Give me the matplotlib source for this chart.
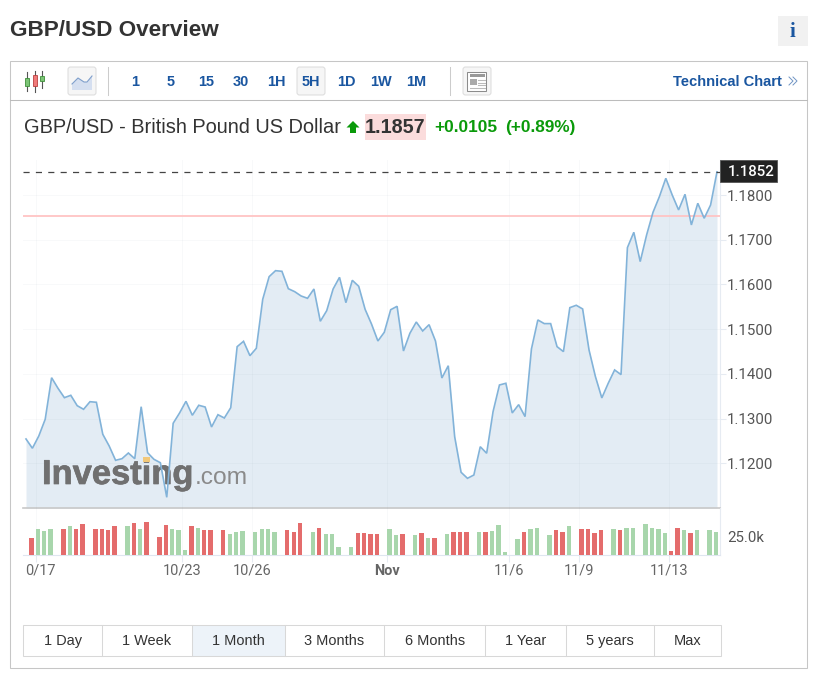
import matplotlib
matplotlib.use("Agg")
import matplotlib.pyplot as plt
import matplotlib.patheffects as pe
from matplotlib.patches import Rectangle, FancyBboxPatch, Polygon
from matplotlib.transforms import ScaledTranslation

# closing prices, one per 5H candle
price = [1.12544, 1.12336, 1.12611, 1.12984, 1.13915, 1.13678, 1.13468, 1.13521, 1.13289, 1.13208,
         1.13378, 1.13365, 1.12649, 1.12387, 1.12067, 1.12103, 1.12230, 1.12103, 1.13266, 1.12237,
         1.12089, 1.12013, 1.11239, 1.12895, 1.13125, 1.13387, 1.13074, 1.13298, 1.13259, 1.12812,
         1.13087, 1.13013, 1.13244, 1.14609, 1.14729, 1.14407, 1.14573, 1.15669, 1.16175, 1.16309,
         1.16295, 1.15906, 1.15839, 1.15743, 1.15691, 1.15899, 1.15177, 1.15414, 1.15899, 1.16161,
         1.15593, 1.16094, 1.15960, 1.15445, 1.15116, 1.14736, 1.14931, 1.15436, 1.15512, 1.14512,
         1.14908, 1.15161, 1.14960, 1.15101, 1.14736, 1.13908, 1.14183, 1.12595, 1.11799, 1.11664,
         1.11738, 1.12371, 1.12224, 1.13156, 1.13752, 1.13790, 1.13126, 1.13312, 1.13044, 1.14558,
         1.15207, 1.15125, 1.15125, 1.14610, 1.14498, 1.15482, 1.15535, 1.15453, 1.14535, 1.13939,
         1.13462, 1.13790, 1.14088, 1.13984, 1.16825, 1.17168, 1.16512, 1.17108, 1.17615, 1.17966,
         1.18376, 1.18003, 1.17667, 1.18018, 1.17332, 1.17817, 1.17481, 1.17779, 1.1852]

# volume in thousands, None where the feed has no bar
volume = [None, 23.6, 35.2, 33.3, 35.6, None, 35.6, 38.9, 35.6, 42.6,
          None, 35.6, 35.6, 33.8, 38.9, None, 38.9, 44.0, 35.6, 45.8,
          None, 25.0, 40.7, 35.6, 33.8, 6.0, 38.9, 37.0, 33.8, 33.8,
          None, 33.8, 28.2, 30.6, 33.3, None, 31.9, 35.2, 35.6, 30.6,
          None, 33.8, 31.9, 44.0, None, 30.6, 37.0, 28.7, 28.7, 11.0,
          None, 11.0, 30.1, 30.1, 28.7, 28.7, None, 35.6, 26.4, 28.7,
          None, 26.4, 30.1, 23.6, 23.6, None, 28.7, 31.9, 30.6, 30.6,
          None, 31.9, 31.9, 33.3, 40.7, 2.8, None, 21.8, 31.9, 35.6,
          37.5, None, 26.4, 33.8, 31.9, 38.9, None, 35.6, 35.6, 30.1,
          33.8, None, 35.6, 33.8, 37.5, 37.5, None, 42.6, 37.5, 35.6,
          30.1, 4.2, 37.5, 33.8, 30.1, 33.8, None, 33.8, 31.9]
vol_dir = "-rggg-rgrr-rrrr-grgr-rrgggrgrr-rggg-gggg-rrr-grggg-grrrr-ggr-grgr-grrr-grggg-grgg-grrg-rrrr-grgg-ggggrrgrg-gg"

price_ticks = [1.12, 1.13, 1.14, 1.15, 1.16, 1.17, 1.18]
date_pos = [1.56, 24.4, 35.4, 56.5, 75.5, 86.4, 100.5]
date_labels = ["0/17", "10/23", "10/26", "Nov", "11/6", "11/9", "11/13"]
last_price = 1.1852
prev_close = 1.1753

intervals = ["1", "5", "15", "30", "1H", "5H", "1D", "1W", "1M"]
ranges = ["1 Day", "1 Week", "1 Month", "3 Months", "6 Months", "1 Year", "5 years", "Max"]

W, H = 823, 684
BLUE = "#1a56a0"
GREEN = "#0a9a0a"
DARK = "#333333"
UI = "Liberation Sans"
AXF = "Roboto"
PX = 0.72


def px_axes(fig, left, top, right, bottom):
    return fig.add_axes([left / W, 1 - bottom / H, (right - left) / W, (bottom - top) / H])


fig = plt.figure(figsize=(W / 100, H / 100), dpi=100, facecolor="white")

# page furniture, in pixel coordinates
ui = fig.add_axes([0, 0, 1, 1], zorder=0)
ui.set_xlim(0, W)
ui.set_ylim(H, 0)
ui.axis("off")

ui.text(10, 31, "GBP/USD Overview", fontsize=22.5 * PX, fontweight="bold", family=UI, color=DARK, va="center")
ui.add_patch(Rectangle((778, 16), 30, 30, fc="#f1f1f1", ec="none"))
ui.text(792, 32, "i", fontsize=21 * PX, fontweight="bold", family="Liberation Serif", color=BLUE, ha="center", va="center")

ui.add_patch(Rectangle((10.5, 61), 797, 607, fc="white", ec="#c6c6c6", lw=0.75))
ui.plot([10.5, 807.5], [100, 100], color="#bcbcbc", lw=0.75)

# candle icon
for cx, y0, y1, by0, by1, fc, ec in [(27.3, 72, 91, 78, 86, "#7cc576", "#3f8f3a"),
                                     (34.7, 71, 92, 75, 86, "#f07a7a", "#b84040"),
                                     (42.5, 71, 88, 76, 81, "#7cc576", "#3f8f3a")]:
    ui.plot([cx, cx], [y0, y1], color="#555555", lw=0.8)
    ui.add_patch(Rectangle((cx - 2, by0), 4, by1 - by0, fc=fc, ec=ec, lw=0.6, zorder=3))


def icon_box(x, y, w, h):
    ui.add_patch(FancyBboxPatch((x + 1.5, y + 1.5), w - 3, h - 3, boxstyle="round,pad=1.5,rounding_size=2.5",
                                fc="#f6f6f6", ec="#dddddd", lw=0.75))


# line-chart icon
icon_box(68, 67, 28, 28)
icon_x = [72, 78, 84, 87, 92]
icon_y = [84, 78, 82, 82, 76]
ui.add_patch(Polygon(list(zip(icon_x, icon_y)) + [(92, 90), (72, 90)], fc="#d5dff0", ec="none"))
ui.plot(icon_x, icon_y, color="#7f9fcc", lw=0.8)

ui.plot([108.5, 108.5], [67, 95], color="#cccccc", lw=0.75)
ui.plot([450.5, 450.5], [67, 95], color="#cccccc", lw=0.75)
icon_box(297, 67, 28, 28)
for x, lab in zip([135.5, 170.5, 206, 241, 276, 311, 346, 381, 416], intervals):
    ui.text(x, 81.5, lab, fontsize=14.5 * PX, fontweight="bold", family=UI, color=BLUE, ha="center", va="center")

# news icon
icon_box(463, 67, 28, 28)
ui.add_patch(Rectangle((467.5, 71.5), 19, 19, fc="white", ec="#8c8c8c", lw=0.75))
ui.add_patch(Rectangle((470, 73.5), 15, 3.5, fc="#999999", ec="none"))
ui.add_patch(Rectangle((470, 79), 7, 6, fc="#aaaaaa", ec="none"))
for y in [80, 82.5, 85, 88]:
    ui.plot([478 if y < 87 else 470, 485], [y, y], color="#bbbbbb", lw=0.75)

ui.text(782, 81.5, "Technical Chart", fontsize=14.7 * PX, fontweight="bold", family=UI, color=BLUE, ha="right", va="center")
for off in [0, 4]:
    ui.plot([789 + off, 793 + off, 789 + off], [77, 81, 85], color="#6f94c4", lw=0.7)

# quote line
ui.text(24, 127.5, "GBP/USD - British Pound US Dollar", fontsize=20 * PX, family=UI, color=DARK, va="center")
ui.add_patch(Polygon([(353, 121), (359.5, 127.5), (356, 127.5), (356, 133), (350, 133), (350, 127.5), (346.5, 127.5)],
                     fc=GREEN, ec="none"))
ui.add_patch(Rectangle((365, 114), 61, 26, fc="#fbdcdc", ec="none"))
ui.text(395.5, 127.5, "1.1857", fontsize=19.8 * PX, fontweight="bold", family=UI, color=DARK, ha="center", va="center")
ui.text(434, 127.5, "+0.0105", fontsize=17.2 * PX, fontweight="bold", family=UI, color=GREEN, va="center")
ui.text(505, 127.5, "(+0.89%)", fontsize=17.2 * PX, fontweight="bold", family=UI, color=GREEN, va="center")

# price panel
x = list(range(len(price)))
ax = px_axes(fig, 23, 160, 720, 508)
ax.set_zorder(1)
ax.patch.set_alpha(0)
ax.set_xlim(-0.47, 108.47)
ax.set_ylim(1.11, 1.18785)
ax.fill_between(x, price, 1.11, color="#e3ecf4", lw=0, zorder=1)
ax.plot(x, price, color="#82b3d9", lw=1.2, zorder=4, solid_joinstyle="miter")
ax.axhline(prev_close, color="#ffc4c4", lw=1.3, zorder=3)
ax.axhline(last_price, color="#444444", lw=0.9, dashes=(4.9, 5), zorder=5)
ax.yaxis.tick_right()
ax.set_yticks(price_ticks)
ax.set_yticklabels([f"{t:.4f}" for t in price_ticks], fontsize=15 * PX, family=AXF, color="#555555", va="center_baseline")
ax.tick_params(axis="y", length=4, width=0.75, color="#e6ebf2", pad=1)
ax.set_xticks(date_pos)
ax.tick_params(axis="x", length=0, labelbottom=False)
ax.grid(True, color="#8899aa", alpha=0.06, lw=0.75, zorder=2)
ax.set_axisbelow(False)
for side in ["top", "left"]:
    ax.spines[side].set_visible(False)
ax.spines["right"].set_color("#e6ebf2")
ax.spines["bottom"].set_color("#c8c8c8")
ax.spines["bottom"].set_linewidth(1.2)

# watermark
wm = ax.annotate("Investing", (0, 0), xycoords="axes fraction", xytext=(19 * PX, 24 * PX), textcoords="offset points",
                 fontsize=34.5 * PX, fontweight="bold", family=UI, color="#707070", zorder=3)
wm.set_path_effects([pe.withStroke(linewidth=0.5, foreground="#707070")])
ax.annotate(".com", (0, 0), xycoords="axes fraction", xytext=(172 * PX, 24 * PX), textcoords="offset points",
            fontsize=24.5 * PX, family=UI, color="#8a8a8a", zorder=3)

# last price flag sits over the axis
flag = fig.add_axes([0, 0, 1, 1], zorder=3)
flag.set_xlim(0, W)
flag.set_ylim(H, 0)
flag.axis("off")
flag.add_patch(Rectangle((720, 160), 57, 22, fc="#222222", ec="#555555", lw=0.6))
flag.text(751.5, 171.5, f"{last_price:.4f}", fontsize=15 * PX, fontweight="medium", family=AXF, color="white", ha="center", va="center")
flag.add_patch(Rectangle((143.5, 456.5), 6.5, 5, fc="#f2c879", ec="none"))

# volume panel
vx = [i - 0.16 for i, v in enumerate(volume) if v is not None]
vh = [v for v in volume if v is not None]
vc = ["#e46c6c" if d == "r" else "#a8d6ac" for d, v in zip(vol_dir, volume) if v is not None]
vol = px_axes(fig, 23, 508, 720, 554.5)
vol.set_zorder(1)
vol.patch.set_alpha(0)
vol.set_xlim(-0.47, 108.47)
vol.set_ylim(0, 46.5 * 25 / 18)
vol.bar(vx, vh, width=0.68, color=vc, zorder=3)
vol.yaxis.tick_right()
vol.set_yticks([25])
vol.set_yticklabels(["25.0k"], fontsize=15 * PX, family=AXF, color="#555555", va="center_baseline")
vol.tick_params(axis="y", length=0, pad=5)
vol.set_xticks(date_pos)
vol.set_xticklabels(date_labels, fontsize=14.5 * PX, family=AXF, color="#666666")
vol.tick_params(axis="x", length=4.7, width=0.75, color="#e6ebf2", pad=2)
vol.grid(True, axis="x", color="#8899aa", alpha=0.06, lw=0.75, zorder=1)
for side in ["top", "left"]:
    vol.spines[side].set_visible(False)
vol.spines["right"].set_color("#e6ebf2")
vol.spines["bottom"].set_color("#dfe6f0")
labels = vol.get_xticklabels()
labels[0].set_transform(labels[0].get_transform() + ScaledTranslation(4 * PX / 72, 0, fig.dpi_scale_trans))
labels[3].set_fontweight("bold")

# range selector
edges = [23.5, 101.7, 191.6, 284.7, 384.3, 485.3, 566.3, 654.3, 721.5]
ui.add_patch(Rectangle((edges[2], 624.5), edges[3] - edges[2], 31, fc="#edf3f9", ec="none"))
ui.add_patch(Rectangle((edges[0], 624.5), edges[-1] - edges[0], 31, fc="none", ec="#d8d8d8", lw=0.75))
for left, right, lab in zip(edges[:-1], edges[1:], ranges):
    ui.text((left + right) / 2, 645, lab, fontsize=14.5 * PX, family=UI, color=DARK, ha="center", va="baseline")
    if right < edges[-1]:
        ui.plot([right, right], [624.5, 655.5], color="#d8d8d8", lw=0.75)

fig.savefig("out.png", dpi=100)
